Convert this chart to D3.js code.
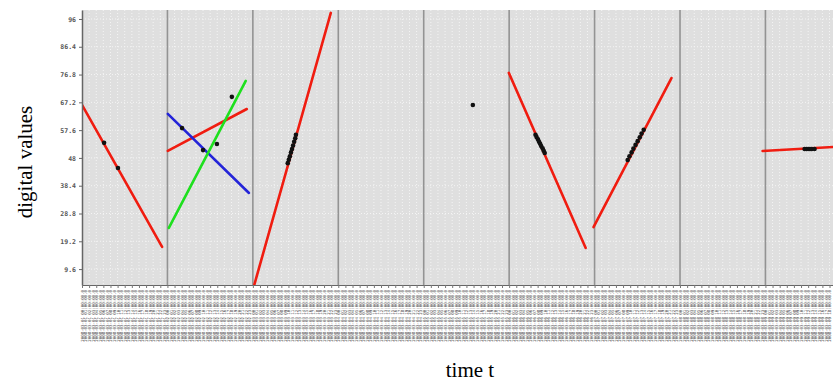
<!DOCTYPE html>
<html>
<head>
<meta charset="utf-8">
<script src="https://cdn.jsdelivr.net/npm/d3@7"></script>
<style>
  body { margin: 0; background: #fff; }
  svg { display: block; }
</style>
</head>
<body>
<div id="chart"></div>
<script>
// hours since the first day, one day per panel
const startDay = new Date(2008, 2, 1, 0, 0, 0);
const dayCount = 9;
const yTicks = [9.6, 19.2, 28.8, 38.4, 48, 57.6, 67.2, 76.8, 86.4, 96];

// red fitted lines: [t0, t1] and [v0, v1]
const redT = [[0, 22.5], [24.1, 46.3], [48.3, 69.9], [119.9, 141.5], [143.7, 165.6], [191.2, 214]];
const redV = [[66.3, 17.3], [50.4, 64.9], [3.7, 98.1], [77.4, 16.9], [24.1, 75.6], [50.4, 52.0]];
// other series on day 2
const blueT = [24.1, 46.9];
const blueV = [63.2, 35.9];
const greenT = [24.4, 46.0];
const greenV = [23.8, 74.6];

// measured values (black dots)
const dotT = [6.2, 10.1, 28.1, 34.0, 37.9, 42.1,
              57.8, 58.1, 58.4, 58.7, 59.0, 59.3, 59.6, 59.9, 60.1,
              109.8,
              127.4, 127.7, 128.1, 128.4, 128.7, 129.0, 129.4, 129.7, 130.0,
              153.3, 153.8, 154.4, 154.9, 155.5, 156.1, 156.7, 157.2, 157.8,
              203.0, 203.5, 204.0, 204.5, 205.0, 205.8];
const dotV = [53.2, 44.5, 58.3, 50.7, 52.8, 69.1,
              46.2, 47.4, 48.6, 49.9, 51.1, 52.3, 53.6, 54.8, 56.0,
              66.3,
              56.0, 55.2, 54.4, 53.6, 52.9, 52.1, 51.3, 50.5, 49.7,
              47.3, 48.6, 49.9, 51.2, 52.5, 53.8, 55.1, 56.4, 57.7,
              51.1, 51.1, 51.1, 51.1, 51.1, 51.1];

const W = 833, H = 383;
const margin = {top: 10, left: 82};
const plotW = 9 * 85.43, plotH = 275;

const toDate = h => new Date(startDay.getTime() + h * 3600e3);

const svg = d3.select("#chart").append("svg")
  .attr("width", W).attr("height", H);

const x = d3.scaleTime()
  .domain([startDay, toDate(dayCount * 24)])
  .range([margin.left, margin.left + plotW]);
const y = d3.scaleLinear()
  .domain([4.1, 99.1])
  .range([margin.top + plotH, margin.top]);

svg.append("clipPath").attr("id", "clip")
  .append("rect")
  .attr("x", margin.left).attr("y", margin.top)
  .attr("width", plotW).attr("height", plotH);

// plot background
svg.append("rect")
  .attr("x", margin.left).attr("y", margin.top)
  .attr("width", plotW).attr("height", plotH)
  .attr("fill", "#dfdfdf");

const grid = svg.append("g").attr("clip-path", "url(#clip)");

// fine vertical grid every 2 hours
const fineHours = d3.range(0, dayCount * 24, 2).filter(h => h % 24 !== 0);
grid.selectAll(".vgrid")
  .data(fineHours)
  .enter().append("line")
  .attr("x1", h => x(toDate(h))).attr("x2", h => x(toDate(h)))
  .attr("y1", margin.top).attr("y2", margin.top + plotH)
  .attr("stroke", "#f4f4f4")
  .attr("stroke-width", 1)
  .attr("stroke-dasharray", "1,2");

// horizontal grid on the y ticks
grid.selectAll(".hgrid")
  .data(yTicks)
  .enter().append("line")
  .attr("x1", margin.left).attr("x2", margin.left + plotW)
  .attr("y1", d => y(d)).attr("y2", d => y(d))
  .attr("stroke", "#f4f4f4")
  .attr("stroke-width", 1)
  .attr("stroke-dasharray", "1,2");

// day separators
grid.selectAll(".day")
  .data(d3.range(1, dayCount))
  .enter().append("line")
  .attr("x1", d => x(toDate(d * 24))).attr("x2", d => x(toDate(d * 24)))
  .attr("y1", margin.top).attr("y2", margin.top + plotH)
  .attr("stroke", "#939393")
  .attr("stroke-width", 1.6);

const marks = svg.append("g").attr("clip-path", "url(#clip)");

const seg = (ts, vs, color) => {
  marks.append("line")
    .attr("x1", x(toDate(ts[0]))).attr("y1", y(vs[0]))
    .attr("x2", x(toDate(ts[1]))).attr("y2", y(vs[1]))
    .attr("stroke", color)
    .attr("stroke-width", 2.6)
    .attr("stroke-linecap", "round");
};

redT.forEach((ts, i) => seg(ts, redV[i], "#f01c10"));
seg(blueT, blueV, "#2424d8");
seg(greenT, greenV, "#1ee01e");

marks.selectAll(".dot")
  .data(dotT)
  .enter().append("circle")
  .attr("cx", t => x(toDate(t)))
  .attr("cy", (t, i) => y(dotV[i]))
  .attr("r", 2.3)
  .attr("fill", "#111");

// y axis
const yAxis = svg.append("g")
  .attr("transform", "translate(" + margin.left + ",0)")
  .call(d3.axisLeft(y).tickValues(yTicks).tickSize(3).tickSizeOuter(0)
    .tickFormat(d => String(d)));
yAxis.select(".domain").attr("stroke", "#666").attr("stroke-width", 1.5);
yAxis.selectAll(".tick line").attr("stroke", "#666");
yAxis.selectAll("text")
  .attr("font-family", "DejaVu Sans Mono")
  .attr("font-size", 6.5)
  .attr("font-weight", "bold")
  .attr("fill", "#555");

// x axis: tick marks every 2 hours
const xTicks = svg.append("g")
  .attr("transform", "translate(0," + (margin.top + plotH) + ")")
  .call(d3.axisBottom(x)
    .tickValues(d3.range(0, dayCount * 24 + 1, 2).map(toDate))
    .tickSize(3).tickSizeOuter(0).tickFormat(""));
xTicks.select(".domain").attr("stroke", "#666").attr("stroke-width", 1.2);
xTicks.selectAll(".tick line").attr("stroke", "#777");

// x axis labels every hour, rotated (only those that fit in the window)
const fmt = d3.timeFormat("%Y-%m-%d %H:%M:%S.0");
const labelHours = d3.range(0, dayCount * 24).filter(h => x(toDate(h)) < W - 3);
const xLabels = svg.append("g")
  .attr("transform", "translate(0," + (margin.top + plotH + 5) + ")")
  .call(d3.axisBottom(x)
    .tickValues(labelHours.map(toDate))
    .tickSize(0).tickFormat(fmt));
xLabels.select(".domain").remove();
xLabels.selectAll("text")
  .attr("font-family", "DejaVu Sans Mono")
  .attr("font-size", 4.1)
  .attr("fill", "#4a4a4a")
  .attr("text-anchor", "end")
  .attr("dy", "0.35em")
  .attr("transform", "rotate(-90)")
  .attr("x", 0).attr("y", 0);

// axis titles
svg.append("text")
  .attr("transform", "translate(32,162) rotate(-90)")
  .attr("text-anchor", "middle")
  .attr("font-family", "Liberation Serif")
  .attr("font-size", 21)
  .attr("fill", "#000")
  .text("digital values");

svg.append("text")
  .attr("x", 470).attr("y", 377)
  .attr("text-anchor", "middle")
  .attr("font-family", "Liberation Serif")
  .attr("font-size", 21)
  .attr("fill", "#000")
  .text("time t");
</script>
</body>
</html>
